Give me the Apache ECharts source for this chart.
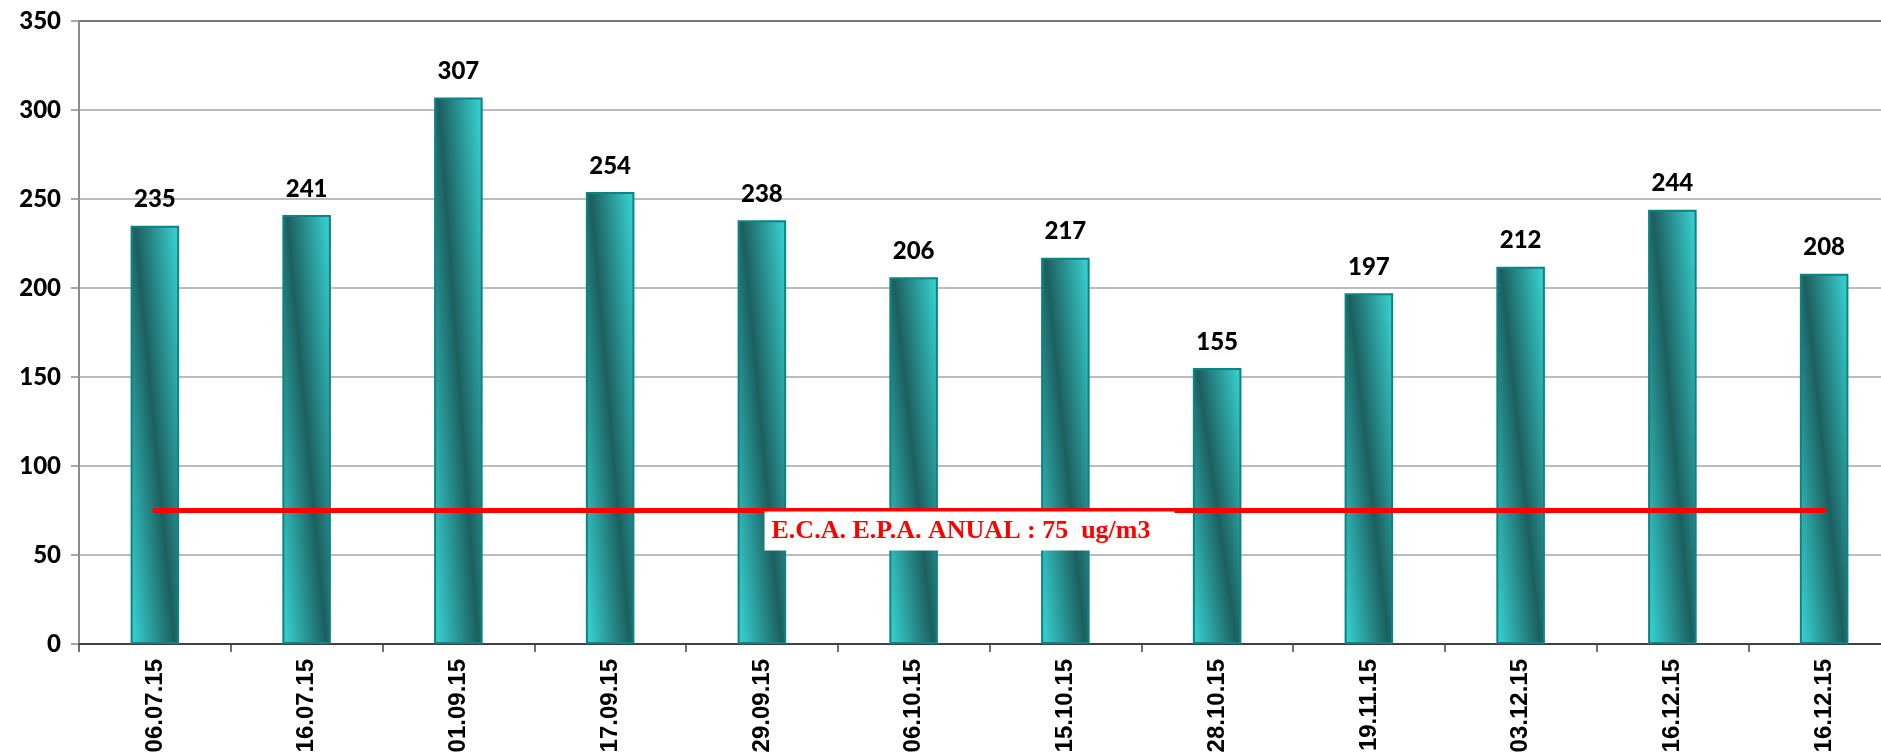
<!DOCTYPE html>
<html>
<head>
<meta charset="utf-8">
<script src="https://cdn.jsdelivr.net/npm/echarts@6/dist/echarts.min.js"></script>
<style>
html,body{margin:0;padding:0;background:#fff;}
#c{width:1881px;height:753px;}
</style>
</head>
<body>
<div id="c"></div>
<script>
var categories = ['06.07.15','16.07.15','01.09.15','17.09.15','29.09.15','06.10.15','15.10.15','28.10.15','19.11.15','03.12.15','16.12.15','16.12.15'];
var values = [235, 241, 307, 254, 238, 206, 217, 155, 197, 212, 244, 208];
var limitValue = 75;
var limitLabel = 'E.C.A. E.P.A. ANUAL : 75  ug/m3';
var yTicks = {min: 0, max: 350, interval: 50};

// diagonal shading of each bar (tilt kept similar regardless of bar height)
function barFill(v) {
  var d = 969 / (v * v);
  return {
    type: 'linear', x: -0.3, y: 0.5 + d / 2, x2: 1.3, y2: 0.5 - d / 2,
    colorStops: [
      {offset: 0, color: '#36cbcb'},
      {offset: 0.5, color: '#1c5f5f'},
      {offset: 1, color: '#36cbcb'}
    ]
  };
}

var chart = echarts.init(document.getElementById('c'));
var gridColors = ['#a6a6a6','#a6a6a6','#a6a6a6','#a6a6a6','#a6a6a6','#a6a6a6','#a6a6a6','#4a4a4a'];
chart.setOption({
  animation: false,
  backgroundColor: '#ffffff',
  grid: {left: 79, top: 21, bottom: 109, width: 1821, containLabel: false, outerBoundsMode: 'none'},
  xAxis: {
    type: 'category',
    data: categories,
    axisLine: {lineStyle: {color: '#404040', width: 2}},
    axisTick: {show: true, length: 8, alignWithLabel: false, lineStyle: {color: '#404040', width: 1.5}},
    axisLabel: {rotate: 90, margin: 15, color: '#000', fontFamily: 'Liberation Sans', fontWeight: 'bold', fontSize: 24, interval: 0}
  },
  yAxis: {
    type: 'value',
    min: yTicks.min, max: yTicks.max, interval: yTicks.interval,
    axisLine: {show: true, lineStyle: {color: '#8c8c8c', width: 2}},
    axisTick: {show: true, length: 8, lineStyle: {color: '#8c8c8c', width: 1.5}},
    axisLabel: {margin: 18, color: '#000', fontFamily: 'Lato', fontWeight: 900, fontSize: 24},
    splitLine: {show: true, lineStyle: {color: gridColors, width: 1.5}}
  },
  series: [{
    type: 'bar',
    data: values.map(function (v) { return {value: v, itemStyle: {color: barFill(v)}}; }),
    barWidth: '32%',
    itemStyle: {
      borderColor: '#0b8484',
      borderWidth: 2
    },
    label: {show: true, position: 'top', distance: 14, color: '#000', fontFamily: 'Lato', fontWeight: 900, fontSize: 24},
    markLine: {
      silent: true,
      symbol: ['none','none'],
      lineStyle: {color: '#ff0000', width: 5, type: 'solid', cap: 'round'},
      label: {
        show: true,
        position: 'insideMiddleBottom',
        formatter: limitLabel,
        color: '#ff0000',
        fontFamily: 'Liberation Serif',
        fontWeight: 'bold',
        fontSize: 26,
        lineHeight: 26,
        backgroundColor: '#ffffff',
        padding: [7, 24, 6, 7],
        distance: 1,
        offset: [-20, 0]
      },
      data: [[{coord: [0, limitValue]}, {coord: [categories.length - 1, limitValue]}]]
    }
  }]
});
</script>
</body>
</html>
